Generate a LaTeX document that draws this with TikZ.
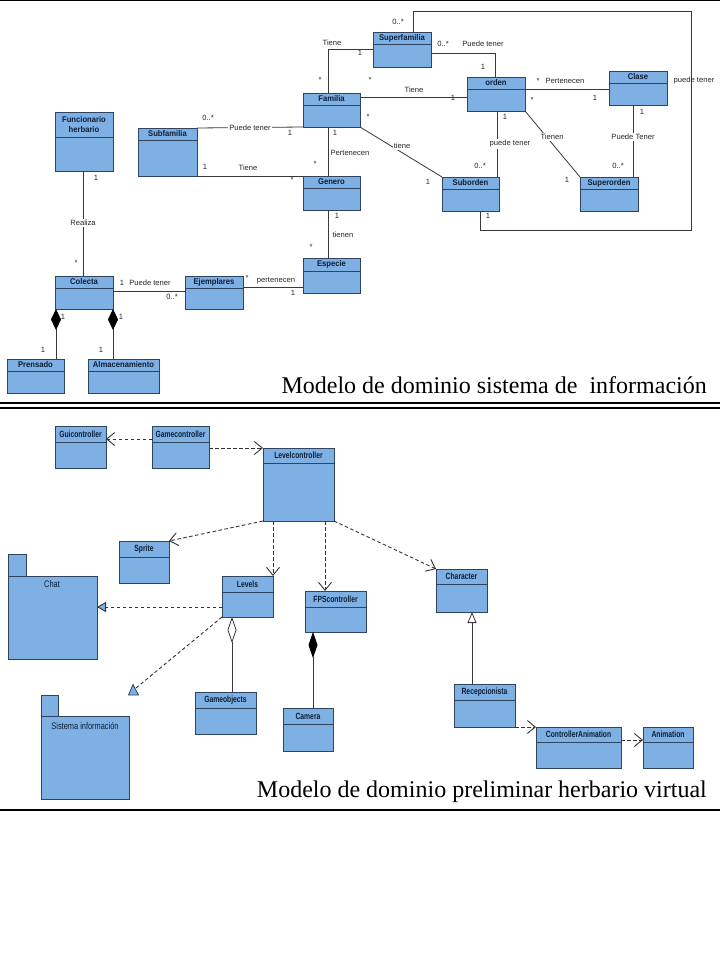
\documentclass[tikz,border=0pt]{standalone}
\usepackage{fontspec}
\setmainfont{Liberation Serif}
\setsansfont{Liberation Sans}
\usetikzlibrary{arrows.meta,calc}
\definecolor{boxfill}{HTML}{7FB0E4}
\definecolor{boxline}{HTML}{2E4460}
\definecolor{titlecol}{HTML}{0B1E36}
\definecolor{linecol}{HTML}{383838}
\tikzset{
  clsbox/.style={draw=boxline, fill=boxfill, line width=0.9pt, inner sep=0pt, outer sep=0pt},
  clssep/.style={draw=boxline, line width=0.9pt},
  ttl/.style={font=\sffamily\bfseries\fontsize{8.3}{9.5}\selectfont, text=titlecol, inner sep=0pt, xscale=0.92, align=center},
  ttlb/.style={font=\sffamily\bfseries\fontsize{9}{10}\selectfont, text=titlecol, inner sep=0pt, xscale=0.75},
  pkgttl/.style={font=\sffamily\fontsize{9.5}{10}\selectfont, text=titlecol, inner sep=0pt, xscale=0.78},
  lbl/.style={font=\sffamily\fontsize{7.6}{8}\selectfont, text=black!85, inner sep=0.5pt},
  lblw/.style={lbl, fill=white, inner sep=1.2pt},
  assoc/.style={draw=linecol, line width=0.8pt},
  dep/.style={draw=black!80, line width=0.9pt, dash pattern=on 3.5pt off 2.5pt, -{Straight Barb[length=8pt,width=13pt]}},
  real/.style={draw=black!80, line width=0.9pt, dash pattern=on 3.5pt off 2.5pt},
  rule/.style={draw=black, line width=1.2pt},
  caption/.style={font=\fontsize{24}{28}\selectfont, inner sep=0pt, text=black},
}
\newcommand{\umlcls}[8]{%
  \node[clsbox, anchor=north west, minimum width=#4pt-#2pt, minimum height=#5pt-#3pt] (#1) at (#2,#3) {};
  \draw[clssep] (#2,#6) -- (#4,#6);
  \node[#8] (#1-t) at ({(#2+#4)/2},{(#3+#6)/2}) {#7};
}
\begin{document}
\begin{tikzpicture}[x=1pt,y=-1pt]
\useasboundingbox (0,0) rectangle (720,960);
\fill[white] (0,0) rectangle (720,960);

% rules
\draw[rule] (0,0.8) -- (720,0.8);
\draw[rule] (0,403) -- (720,403);
\draw[rule] (0,408) -- (720,408);
\draw[rule] (0,810) -- (720,810);

% ---------- top diagram: classes ----------
\umlcls{sf}{373}{32}{431}{67}{44}{Superfamilia}{ttl}
\umlcls{orden}{467}{77}{525}{111}{89}{orden}{ttl}
\umlcls{clase}{609}{71}{667}{105}{83}{Clase}{ttl}
\umlcls{fam}{303}{93}{360}{127}{105}{Familia}{ttl}
\umlcls{gen}{303}{176}{360}{210}{188}{Genero}{ttl}
\umlcls{sub}{442}{177}{499}{211}{189}{Suborden}{ttl}
\umlcls{supo}{580}{177}{638}{211}{189}{Superorden}{ttl}
\umlcls{func}{55}{112}{113}{171}{137}{Funcionario\\herbario}{ttl}
\umlcls{subf}{138}{128}{197}{176}{140}{Subfamilia}{ttl}
\umlcls{esp}{303}{258}{360}{293}{271}{Especie}{ttl}
\umlcls{ejem}{185}{276}{243}{309}{288}{Ejemplares}{ttl}
\umlcls{col}{55}{276}{113}{309}{288}{Colecta}{ttl}
\umlcls{pren}{7}{359}{64}{393}{371}{Prensado}{ttl}
\umlcls{alm}{88}{359}{159}{393}{371}{Almacenamiento}{ttl}

% ---------- top diagram: connectors ----------
\draw[assoc] (fam.north -| 328,0) |- (sf.west);
\draw[assoc] (sf.east |- 0,53) -| (orden.north -| 495,0);
\draw[assoc] (fam.east |- 0,97) -- (orden.west |- 0,97);
\draw[assoc] (orden.east |- 0,89) -- (clase.west |- 0,89);
\draw[assoc] (fam.south east) -- (sub.north west);
\draw[assoc] (orden.south -| 497,0) -- (sub.north -| 497,0);
\draw[assoc] (orden.south east) -- (supo.north west);
\draw[assoc] (clase.south -| 633,0) -- (supo.north -| 633,0);
\draw[assoc] (fam.south -| 328,0) -- (gen.north -| 328,0);
\draw[assoc] (gen.south -| 328,0) -- (esp.north -| 328,0);
\draw[assoc] (sf.north -| 413,0) -- (413,11) -- (691,11) -- (691,230) -- (480,230) -- (sub.south -| 480,0);
\draw[assoc] (subf.north east) -- (fam.south west);
\draw[assoc] (subf.south east) -- (gen.north west);
\draw[assoc] (ejem.east |- 0,287) -- (esp.west |- 0,287);
\draw[assoc] (col.east |- 0,291) -- (ejem.west |- 0,291);
\draw[assoc] (func.south -| 83,0) -- (col.north -| 83,0);
\draw[assoc, {Diamond[length=21pt,width=10pt,fill=black,color=black]}-] (col.south -| 56,0) -- (pren.north -| 56,0);
\draw[assoc, {Diamond[length=21pt,width=10pt,fill=black,color=black]}-] (col.south -| 113,0) -- (alm.north -| 113,0);

% ---------- top diagram: labels ----------
\node[lbl] (l1) at (398,22) {0..*};
\node[lbl] (l2) at (332,43) {Tiene};
\node[lbl] (l3) at (360,53) {1};
\node[lbl] (l4) at (320,80) {*};
\node[lbl] (l5) at (443,44) {0..*};
\node[lbl] (l6) at (483,44) {Puede tener};
\node[lbl] (l7) at (483,67) {1};
\node[lbl] (l8) at (370,80) {*};
\node[lbl] (l9) at (414,90) {Tiene};
\node[lbl] (l10) at (453,98) {1};
\node[lbl] (l11) at (538,81) {*};
\node[lbl] (l12) at (565,81) {Pertenecen};
\node[lbl] (l13) at (595,98) {1};
\node[lbl] (l14) at (694,81) {puede tener};
\node[lbl] (l15) at (368,117) {*};
\node[lblw] (l16) at (402,146) {tiene};
\node[lbl] (l17) at (428,182) {1};
\node[lbl] (l18) at (505,117) {1};
\node[lblw] (l19) at (510,144) {puede tener};
\node[lbl] (l20) at (480,166) {0..*};
\node[lbl] (l21) at (532,100) {*};
\node[lblw] (l22) at (552,137) {Tienen};
\node[lbl] (l23) at (567,180) {1};
\node[lbl] (l24) at (642,112) {1};
\node[lblw] (l25) at (633,137) {Puede Tener};
\node[lbl] (l26) at (618,166) {0..*};
\node[lbl] (l27) at (335,133) {1};
\node[lblw] (l28) at (350,153) {Pertenecen};
\node[lbl] (l29) at (315,164) {*};
\node[lbl] (l30) at (337,216) {1};
\node[lblw] (l31) at (343,235) {tienen};
\node[lbl] (l32) at (311,247) {*};
\node[lbl] (l33) at (488,216) {1};
\node[lbl] (l34) at (208,118) {0..*};
\node[lblw] (l35) at (250,128) {Puede tener};
\node[lbl] (l36) at (290,133) {1};
\node[lbl] (l37) at (205,167) {1};
\node[lbl] (l38) at (248,168) {Tiene};
\node[lbl] (l39) at (292,180) {*};
\node[lbl] (l40) at (247,278) {*};
\node[lbl] (l41) at (276,281) {pertenecen};
\node[lbl] (l42) at (293,293) {1};
\node[lbl] (l43) at (122,283) {1};
\node[lbl] (l44) at (150,283) {Puede tener};
\node[lbl] (l45) at (172,297) {0..*};
\node[lbl] (l46) at (96,178) {1};
\node[lblw] (l47) at (83,223) {Realiza};
\node[lbl] (l48) at (76,263) {*};
\node[lbl] (l49) at (63,317) {1};
\node[lbl] (l50) at (121,317) {1};
\node[lbl] (l51) at (43,350) {1};
\node[lbl] (l52) at (101,350) {1};

\node[caption, anchor=base east] (cap1) at (707,393) {Modelo de dominio sistema de\ \ información};

% ---------- bottom diagram: classes ----------
\umlcls{gui}{55}{426}{106}{468}{442}{Guicontroller}{ttlb}
\umlcls{game}{152}{426}{209}{468}{442}{Gamecontroller}{ttlb}
\umlcls{level}{263}{448}{334}{521}{463}{Levelcontroller}{ttlb}
\umlcls{sprite}{119}{541}{169}{583}{557}{Sprite}{ttlb}
\umlcls{levels}{222}{576}{273}{617}{592}{Levels}{ttlb}
\umlcls{fps}{305}{591}{366}{632}{607}{FPScontroller}{ttlb}
\umlcls{char}{436}{569}{487}{612}{584}{Character}{ttlb}
\umlcls{gobj}{195}{692}{256}{734}{708}{Gameobjects}{ttlb}
\umlcls{cam}{283}{708}{333}{751}{724}{Camera}{ttlb}
\umlcls{recep}{454}{684}{515}{727}{700}{Recepcionista}{ttlb}
\umlcls{ctrl}{536}{727}{621}{768}{742}{ControllerAnimation}{ttlb}
\umlcls{anim}{643}{727}{693}{768}{742}{Animation}{ttlb}

% packages
\node[clsbox, anchor=north west, minimum width=18pt, minimum height=22pt] (chattab) at (8,554) {};
\node[clsbox, anchor=north west, minimum width=89pt, minimum height=83pt] (chat) at (8,576) {};
\node[pkgttl] (chat-t) at (52,584) {Chat};
\node[clsbox, anchor=north west, minimum width=17pt, minimum height=21pt] (sistab) at (41,695) {};
\node[clsbox, anchor=north west, minimum width=88pt, minimum height=83pt] (sis) at (41,716) {};
\node[pkgttl] (sis-t) at (85,726) {Sistema información};

% ---------- bottom diagram: connectors ----------
\draw[dep] (game.west |- 0,439) -- (gui.east |- 0,439);
\draw[dep] (game.east |- 0,448) -- (level.north west);
\draw[dep] (level.south west) -- (sprite.north east);
\draw[dep] (level.south -| 273,0) -- (levels.north east);
\draw[dep] (level.south -| 325,0) -- (fps.north -| 325,0);
\draw[dep] (level.south east) -- (char.north west);
\draw[real, -{Triangle[length=9pt,width=10pt,fill=boxfill]}] (levels.west |- 0,607) -- (chat.east |- 0,607);
\coordinate (sisend) at (136,688);
\draw[real] (levels.south west) -- (sisend);
\path[draw=boxline, fill=boxfill, line width=0.8pt] (133,684.5) -- (138.5,695) -- (128.5,695) -- cycle;
\draw[assoc, {Diamond[length=26pt,width=9pt,fill=white]}-] (levels.south -| 232,0) -- (gobj.north -| 232,0);
\draw[assoc, {Diamond[length=26pt,width=9pt,fill=black,color=black]}-] (fps.south -| 313,0) -- (cam.north -| 313,0);
\draw[assoc, -{Triangle[length=11pt,width=9pt,fill=white]}] (recep.north -| 472,0) -- (char.south -| 472,0);
\draw[dep] (recep.south east) -- (ctrl.north west);
\draw[dep] (ctrl.east |- 0,740) -- (anim.west |- 0,740);

\node[caption, anchor=base east] (cap2) at (707,797) {Modelo de dominio preliminar herbario virtual};
\end{tikzpicture}
\end{document}
